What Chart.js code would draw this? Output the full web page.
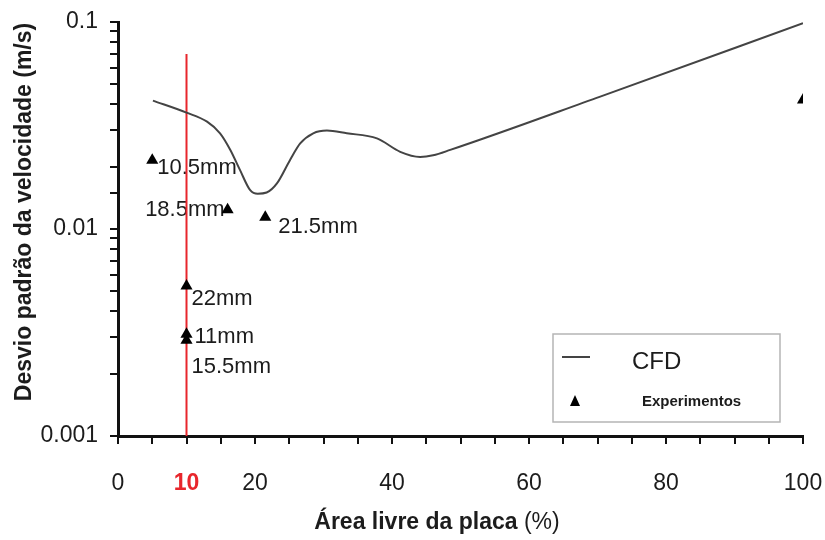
<!DOCTYPE html>
<html lang="pt">
<head>
    <meta charset="UTF-8">
    <title>Desvio padrão da velocidade</title>
    <script src="https://cdn.jsdelivr.net/npm/chart.js"></script>
    <style>
        body { margin: 0; background: white; }
        #wrap { width: 825px; height: 540px; }
    </style>
</head>
<body>
    <div id="wrap"><canvas id="chart" width="825" height="540"></canvas></div>
    <script>
        // CFD curve (Área livre %, desvio m/s)
        const cfdX = [5.1, 10, 13, 14.9, 16.4, 17.8, 19.3, 20.4, 21.7, 23.2, 25.1, 26.6, 28.5, 30.5, 33.4, 37.8, 41.2, 44.1, 46, 48.5, 70.4, 100];
        const cfdY = [0.0417, 0.0365, 0.033, 0.029, 0.0241, 0.0193, 0.0154, 0.0148, 0.015, 0.0166, 0.0215, 0.0259, 0.029, 0.0299, 0.029, 0.0274, 0.0236, 0.0223, 0.0227, 0.0241, 0.0436, 0.0986];

        // Experimentos
        const expX = [5, 16, 21.5, 10, 10, 10, 100];
        const expY = [0.0215, 0.0124, 0.0114, 0.0053, 0.0031, 0.0029, 0.042];
        const expLabels = ["10.5mm", "18.5mm", "21.5mm", "22mm", "11mm", "15.5mm", ""];

        // red marker line at 10 %
        const markX = [10, 10];
        const markY = [0.001, 0.07];

        const xTickValues = [0, 10, 20, 40, 60, 80, 100];
        const xTickLabels = ["0", "10", "20", "40", "60", "80", "100"];
        const yTickLabels = ["0.001", "0.01", "0.1"];

        // label offsets (px) and alignment, same order as expLabels
        const labelStyle = [
            { dx: 5, dy: 8, align: "left" },
            { dx: -3, dy: 0, align: "right" },
            { dx: 13, dy: 10, align: "left" },
            { dx: 5, dy: 13, align: "left" },
            { dx: 8, dy: 3, align: "left" },
            { dx: 5, dy: 27, align: "left" },
            { dx: 0, dy: 0, align: "left" }
        ];

        const RED = "#e8262c";
        const INK = "#1c1c1c";
        const FONT = "'Liberation Sans', Arial, sans-serif";

        const toPoints = (xs, ys) => xs.map((x, i) => ({ x, y: ys[i] }));

        const annotations = {
            id: "annotations",
            beforeDatasetsDraw(chart) {
                const { ctx } = chart;
                const meta = chart.getDatasetMeta(1);
                ctx.save();
                ctx.fillStyle = INK;
                ctx.font = "22px " + FONT;
                ctx.textBaseline = "middle";
                meta.data.forEach((pt, i) => {
                    if (!expLabels[i]) return;
                    const s = labelStyle[i];
                    ctx.textAlign = s.align;
                    ctx.fillText(expLabels[i], pt.x + s.dx, pt.y + s.dy);
                });
                ctx.restore();
            },
            afterDraw(chart) {
                const { ctx, chartArea } = chart;
                ctx.save();
                ctx.fillStyle = INK;
                ctx.textBaseline = "middle";

                // x title: bold part + regular "(%)"
                const boldPart = "Área livre da placa ";
                const regPart = "(%)";
                ctx.font = "bold 23px " + FONT;
                const wb = ctx.measureText(boldPart).width;
                ctx.font = "23px " + FONT;
                const wr = ctx.measureText(regPart).width;
                const cx = chartArea.left + 319;
                const cy = chartArea.bottom + 87;
                ctx.textAlign = "left";
                ctx.font = "bold 23px " + FONT;
                ctx.fillText(boldPart, cx - (wb + wr) / 2, cy);
                ctx.font = "23px " + FONT;
                ctx.fillText(regPart, cx - (wb + wr) / 2 + wb, cy);

                // y title
                ctx.save();
                ctx.translate(25, chartArea.top + 190);
                ctx.rotate(-Math.PI / 2);
                ctx.textAlign = "center";
                ctx.font = "bold 23px " + FONT;
                ctx.fillText("Desvio padrão da velocidade (m/s)", 0, 0);
                ctx.restore();

                // legend box
                const lx = chartArea.left + 435, ly = chartArea.top + 312, lw = 227, lh = 88;
                ctx.strokeStyle = "#b5b5b5";
                ctx.lineWidth = 1.5;
                ctx.strokeRect(lx, ly, lw, lh);
                ctx.strokeStyle = "#444";
                ctx.lineWidth = 2;
                ctx.beginPath();
                ctx.moveTo(lx + 9, ly + 23);
                ctx.lineTo(lx + 37, ly + 23);
                ctx.stroke();
                ctx.textAlign = "left";
                ctx.font = "24px " + FONT;
                ctx.fillText("CFD", lx + 79, ly + 28);
                ctx.fillStyle = "#000";
                ctx.beginPath();
                ctx.moveTo(lx + 22, ly + 61);
                ctx.lineTo(lx + 27, ly + 72);
                ctx.lineTo(lx + 17, ly + 72);
                ctx.closePath();
                ctx.fill();
                ctx.fillStyle = INK;
                ctx.font = "bold 15px " + FONT;
                ctx.fillText("Experimentos", lx + 89, ly + 68);
                ctx.restore();
            }
        };

        new Chart(document.getElementById("chart"), {
            type: "scatter",
            data: {
                datasets: [
                    {
                        label: "CFD",
                        data: toPoints(cfdX, cfdY),
                        showLine: true,
                        borderColor: "#444",
                        borderWidth: 2,
                        pointRadius: 0,
                        cubicInterpolationMode: "monotone"
                    },
                    {
                        label: "Experimentos",
                        data: toPoints(expX, expY),
                        pointStyle: "triangle",
                        pointRadius: 7,
                        backgroundColor: "#000",
                        borderColor: "#000",
                        borderWidth: 0
                    },
                    {
                        label: "10",
                        data: toPoints(markX, markY),
                        showLine: true,
                        borderColor: RED,
                        borderWidth: 2,
                        pointRadius: 0
                    }
                ]
            },
            options: {
                responsive: false,
                animation: false,
                events: [],
                layout: { padding: { top: 22, right: 22, left: 0, bottom: 0 } },
                plugins: { legend: { display: false }, tooltip: { enabled: false } },
                scales: {
                    x: {
                        type: "linear",
                        min: 0,
                        max: 100,
                        afterFit: (s) => { s.height = 104; s.paddingLeft = 0; s.paddingRight = 0; },
                        afterBuildTicks: (s) => {
                            const t = [];
                            for (let v = 0; v <= 100; v += 5) t.push({ value: v });
                            s.ticks = t;
                        },
                        border: { display: true, color: "#111", width: 3 },
                        grid: { drawOnChartArea: false, color: "#111", lineWidth: 2, tickLength: 8 },
                        ticks: {
                            autoSkip: false,
                            maxRotation: 0,
                            padding: 26,
                            color: (c) => (c.tick && c.tick.value === 10 ? RED : INK),
                            font: (c) => ({
                                family: FONT,
                                size: 23,
                                weight: c.tick && c.tick.value === 10 ? "bold" : "normal"
                            }),
                            callback: (v) => {
                                const i = xTickValues.indexOf(v);
                                return i >= 0 ? xTickLabels[i] : "";
                            }
                        }
                    },
                    y: {
                        type: "logarithmic",
                        min: 0.001,
                        max: 0.1,
                        afterFit: (s) => { s.width = 118; s.paddingTop = 0; s.paddingBottom = 0; },
                        border: { display: true, color: "#111", width: 3 },
                        grid: { drawOnChartArea: false, color: "#111", lineWidth: 2, tickLength: 8 },
                        ticks: {
                            autoSkip: false,
                            padding: 12,
                            color: INK,
                            font: { family: FONT, size: 23 },
                            callback: (v) => {
                                const e = Math.log10(v);
                                if (Math.abs(e - Math.round(e)) > 1e-6) return "";
                                return yTickLabels[Math.round(e) + 3] || "";
                            }
                        }
                    }
                }
            },
            plugins: [annotations]
        });
    </script>
</body>
</html>
